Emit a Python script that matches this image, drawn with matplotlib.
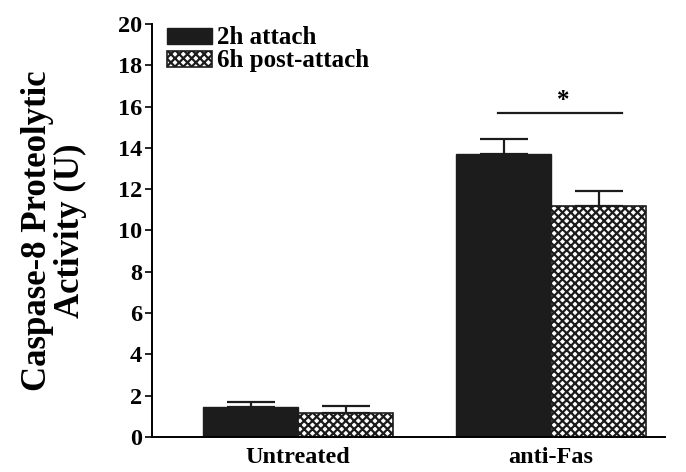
import numpy as np
import matplotlib.pyplot as plt

# Данные: активность каспазы-8
groups = ['Untreated', 'anti-Fas']
series = ['2h attach', '6h post-attach']
attach_2h = [1.45, 13.7]
post_6h = [1.15, 11.2]
err_2h = [0.25, 0.75]
err_6h = [0.35, 0.7]
sig_level = 15.7

plt.rcParams['font.family'] = ['Liberation Serif', 'DejaVu Serif']
plt.rcParams['font.weight'] = 'bold'
plt.rcParams['axes.labelweight'] = 'bold'
plt.rcParams['hatch.linewidth'] = 1.6

fig = plt.figure(figsize=(6.86, 4.72), dpi=100)
ax = fig.add_axes([0.2216, 0.0742, 0.748, 0.875])

x = np.arange(len(groups))
w = 0.375
ax.bar(x - w / 2, attach_2h, w, color='#1c1c1c', edgecolor='#1c1c1c', label=series[0])
ax.bar(x + w / 2, post_6h, w, color='white', edgecolor='#1c1c1c', hatch='xxxx',
       linewidth=1.2, label=series[1])

# Планки погрешностей только вверх
ax.errorbar(x - w / 2, attach_2h, yerr=[np.zeros(2), err_2h], fmt='none',
            ecolor='#1c1c1c', elinewidth=1.6, capsize=17, capthick=1.6)
ax.errorbar(x + w / 2, post_6h, yerr=[np.zeros(2), err_6h], fmt='none',
            ecolor='#1c1c1c', elinewidth=1.6, capsize=17, capthick=1.6)

# Значимость различий
ax.plot([0.79, 1.28], [sig_level, sig_level], color='#1c1c1c', lw=1.6)
ax.text(1.047, sig_level + 0.05, '*', ha='center', va='bottom', fontsize=18)

ax.set_xlim(-0.577, 1.45)
ax.set_ylim(0, 20)
ax.set_yticks(np.arange(0, 21, 2))
ax.set_xticks(x)
ax.set_xticklabels(groups, fontsize=17.5)
ax.tick_params(axis='x', length=0, pad=7)
ax.tick_params(axis='y', labelsize=17.5, direction='out', length=5, width=1.2, pad=2)
for s in ['top', 'right']:
    ax.spines[s].set_visible(False)
for s in ['left', 'bottom']:
    ax.spines[s].set_linewidth(1.4)

ax.set_ylabel('Caspase-8 Proteolytic\nActivity (U)', fontsize=25, labelpad=22, linespacing=1.0)

ax.legend(loc='upper left', bbox_to_anchor=(0.025, 1.0), frameon=False, fontsize=18,
          handlelength=1.8, handleheight=0.6, handletextpad=0.2, labelspacing=0.0,
          borderaxespad=0.0, borderpad=0.1)

plt.savefig('out.png', dpi=100)
